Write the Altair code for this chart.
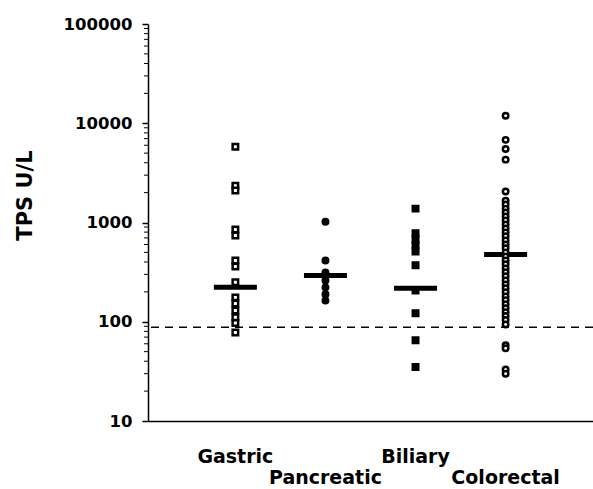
import altair as alt
import pandas as pd

groups = ["Gastric", "Pancreatic", "Biliary", "Colorectal"]
gastric = [5800, 2350, 2100, 850, 740, 415, 360, 250, 176, 153, 130, 111, 97, 78]
pancreatic = [1020, 415, 314, 261, 222, 189, 164]
biliary = [1380, 780, 675, 590, 510, 370, 207, 122, 65, 35]
colorectal = [11900, 6800, 5500, 4300, 2050, 1660, 1520, 1380, 1260, 1150, 1050,
              955, 870, 795, 725, 660, 600, 550, 500, 455, 415, 380, 345, 315,
              287, 261, 238, 217, 198, 180, 165, 150, 137, 125, 114, 104, 94,
              58, 54, 33, 30]
medians = [222, 293, 217, 476]
cutoff = [88]
major_ticks = [10, 100, 1000, 10000, 100000]
minor_ticks = [m * 10 ** d for d in range(1, 5) for m in range(2, 10)]
top_row = ["Gastric", "Biliary"]
bottom_row = ["Pancreatic", "Colorectal"]

rows = [{"group": g, "tps": v}
        for g, vals in zip(groups, [gastric, pancreatic, biliary, colorectal])
        for v in vals]
df = pd.DataFrame(rows)
med_df = pd.DataFrame({"group": groups, "tps": medians})
cut_df = pd.DataFrame({"tps": cutoff})
minor_df = pd.DataFrame({"tps": minor_ticks})

FONT = "DejaVu Sans"

x_scale = alt.Scale(type="point", domain=groups, padding=0.97)
y_scale = alt.Scale(type="log", domain=[10, 100000], nice=False)

x_axis = alt.Axis(title=None, labels=False, ticks=False, domainColor="black",
                  domainWidth=1.5, grid=False)
y_axis = alt.Axis(values=major_ticks, format="d", title="TPS U/L",
                  titleX=-123, titleY=171, titleAngle=-90,
                  titleAlign="center", titleBaseline="middle",
                  titleFont=FONT, titleFontSize=21, titleFontWeight="bold",
                  titleColor="black",
                  labelFont=FONT, labelFontSize=16.5, labelFontWeight="bold",
                  labelColor="black", labelPadding=10,
                  tickSize=6, tickColor="black", tickWidth=1.5,
                  domainColor="black", domainWidth=1.5, grid=False)

X = alt.X("group:N", scale=x_scale, axis=x_axis)
Y = alt.Y("tps:Q", scale=y_scale, axis=y_axis)

points = alt.Chart(df).mark_point(
    stroke="black", strokeWidth=2.5, size=30, opacity=1, fillOpacity=1
).encode(
    x=X, y=Y,
    shape=alt.Shape("group:N", scale=alt.Scale(domain=groups,
                    range=["square", "circle", "square", "circle"]), legend=None),
    fill=alt.Fill("group:N", scale=alt.Scale(domain=groups,
                  range=["white", "black", "black", "white"]), legend=None),
)

med = alt.Chart(med_df).mark_tick(
    color="black", thickness=5, size=43, opacity=1
).encode(x=X, y=Y)

cut = alt.Chart(cut_df).mark_rule(
    color="black", strokeWidth=1.5, strokeDash=[8, 6]
).encode(y=Y)

minor = alt.Chart(minor_df).mark_rule(color="black", strokeWidth=1).encode(
    y=Y, x=alt.value(-4), x2=alt.value(0)
)

lab_top = alt.Chart(pd.DataFrame({"group": top_row})).mark_text(
    font=FONT, fontSize=19, fontWeight="bold", color="black",
    align="center", baseline="alphabetic"
).encode(x=X, y=alt.value(439), text="group:N")

lab_bot = alt.Chart(pd.DataFrame({"group": bottom_row})).mark_text(
    font=FONT, fontSize=19, fontWeight="bold", color="black",
    align="center", baseline="alphabetic"
).encode(x=X, y=alt.value(460), text="group:N")

chart = alt.layer(minor, cut, med, points, lab_top, lab_bot).properties(
    width=445, height=397,
    autosize=alt.AutoSizeParams(type="none"),
    padding={"left": 148, "top": 24, "right": 0, "bottom": 68},
    background="white",
).configure_view(stroke=None)

chart.save("out.html", embed_options={"renderer": "svg", "actions": False})
